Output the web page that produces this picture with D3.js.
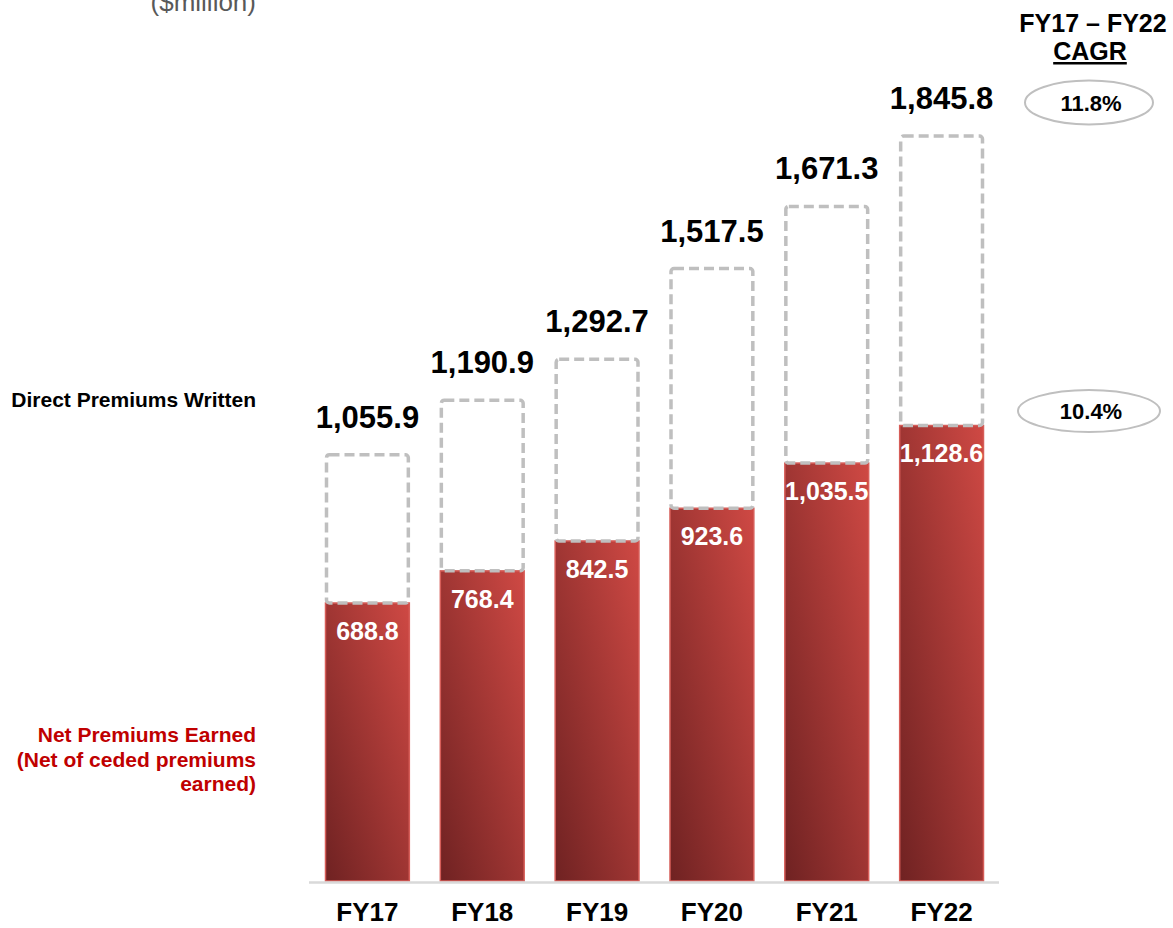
<!DOCTYPE html>
<html>
<head>
<meta charset="utf-8">
<script src="https://cdn.jsdelivr.net/npm/d3@7"></script>
<style>
  html, body { margin: 0; padding: 0; background: #fff; }
  svg { display: block; font-family: "Liberation Sans", Arial, sans-serif; }
</style>
</head>
<body>
<div id="chart"></div>
<script>
const categories = ["FY17", "FY18", "FY19", "FY20", "FY21", "FY22"];
const directPremiumsWritten = [1055.9, 1190.9, 1292.7, 1517.5, 1671.3, 1845.8];
const netPremiumsEarned = [688.8, 768.4, 842.5, 923.6, 1035.5, 1128.6];
const cagrLabels = ["11.8%", "10.4%"];
const unitLabel = "($million)";
const cagrTitle = ["FY17 – FY22", "CAGR"];
const seriesLabels = {
  dpw: ["Direct Premiums Written"],
  npe: ["Net Premiums Earned", "(Net of ceded premiums", "earned)"]
};

const W = 1173, H = 928;
const svg = d3.select("#chart").append("svg").attr("width", W).attr("height", H);

const baseY = 881;
const y = d3.scaleLinear().domain([0, 2000]).range([baseY, baseY - 2000 * 0.4036]);
const x = d3.scaleBand().domain(categories).range([310, 999]).paddingInner(0.27).paddingOuter(0.135);

const fmt = d3.format(",.1f");

const defs = svg.append("defs");
const grad = defs.append("linearGradient").attr("id", "barGrad")
  .attr("x1", 0).attr("y1", 1).attr("x2", 1).attr("y2", 0);
grad.append("stop").attr("offset", "0%").attr("stop-color", "#6f2222");
grad.append("stop").attr("offset", "100%").attr("stop-color", "#cf4944");

const rows = categories.map((c, i) => ({ c, dpw: directPremiumsWritten[i], npe: netPremiumsEarned[i] }));

// Net premiums earned bars
svg.append("g").selectAll("rect").data(rows).join("rect")
  .attr("x", d => x(d.c))
  .attr("y", d => y(d.npe))
  .attr("width", x.bandwidth())
  .attr("height", d => baseY - y(d.npe))
  .attr("fill", "url(#barGrad)")
  .attr("stroke", "#d65d58")
  .attr("stroke-width", 1.5);

// Dashed DPW boxes
svg.append("g").selectAll("rect").data(rows).join("rect")
  .attr("x", d => x(d.c) + 1)
  .attr("y", d => y(d.dpw))
  .attr("width", x.bandwidth() - 2)
  .attr("height", d => y(d.npe) - y(d.dpw))
  .attr("rx", 3)
  .attr("fill", "none")
  .attr("stroke", "#bfbfbf")
  .attr("stroke-width", 3.5)
  .attr("stroke-dasharray", "10,5");

// Baseline
svg.append("line")
  .attr("x1", 309).attr("x2", 999)
  .attr("y1", baseY + 1.5).attr("y2", baseY + 1.5)
  .attr("stroke", "#d9d9d9").attr("stroke-width", 2.5);

// DPW labels
svg.append("g").selectAll("text").data(rows).join("text")
  .attr("x", d => x(d.c) + x.bandwidth() / 2)
  .attr("y", d => y(d.dpw) - 27)
  .attr("text-anchor", "middle")
  .attr("font-weight", "bold")
  .attr("font-size", 31)
  .attr("fill", "#000")
  .text(d => fmt(d.dpw));

// NPE labels
svg.append("g").selectAll("text").data(rows).join("text")
  .attr("x", d => x(d.c) + x.bandwidth() / 2)
  .attr("y", d => y(d.npe) + 37)
  .attr("text-anchor", "middle")
  .attr("font-weight", "bold")
  .attr("font-size", 25)
  .attr("fill", "#fff")
  .text(d => fmt(d.npe));

// X axis labels
svg.append("g").selectAll("text").data(categories).join("text")
  .attr("x", d => x(d) + x.bandwidth() / 2)
  .attr("y", 921)
  .attr("text-anchor", "middle")
  .attr("font-weight", "bold")
  .attr("font-size", 26)
  .attr("fill", "#000")
  .text(d => d);

// Unit label
svg.append("text")
  .attr("x", 256).attr("y", 11)
  .attr("text-anchor", "end")
  .attr("font-size", 26)
  .attr("fill", "#595959")
  .text(unitLabel);

// Series labels
svg.append("text")
  .attr("x", 256).attr("y", 407)
  .attr("text-anchor", "end")
  .attr("font-weight", "bold")
  .attr("font-size", 21)
  .attr("fill", "#000")
  .text(seriesLabels.dpw[0]);

svg.append("g").selectAll("text").data(seriesLabels.npe).join("text")
  .attr("x", 256)
  .attr("y", (d, i) => 742 + i * 24.5)
  .attr("text-anchor", "end")
  .attr("font-weight", "bold")
  .attr("font-size", 21)
  .attr("fill", "#c00000")
  .text(d => d);

// CAGR header
svg.append("text")
  .attr("x", 1093).attr("y", 32)
  .attr("text-anchor", "middle")
  .attr("font-weight", "bold")
  .attr("font-size", 25)
  .attr("fill", "#000")
  .text(cagrTitle[0]);
svg.append("text")
  .attr("x", 1090).attr("y", 60)
  .attr("text-anchor", "middle")
  .attr("font-weight", "bold")
  .attr("font-size", 25)
  .attr("text-decoration", "underline")
  .attr("fill", "#000")
  .text(cagrTitle[1]);

// CAGR ellipses
const ellipses = [
  { label: cagrLabels[0], cx: 1089, cy: 102.5, rx: 64, ry: 22 },
  { label: cagrLabels[1], cx: 1089, cy: 411, rx: 71, ry: 21 }
];
const eg = svg.append("g").selectAll("g").data(ellipses).join("g");
eg.append("ellipse")
  .attr("cx", d => d.cx).attr("cy", d => d.cy)
  .attr("rx", d => d.rx).attr("ry", d => d.ry)
  .attr("fill", "#fff").attr("stroke", "#bfbfbf").attr("stroke-width", 2);
eg.append("text")
  .attr("x", d => d.cx + 2).attr("y", d => d.cy + 8)
  .attr("text-anchor", "middle")
  .attr("font-weight", "bold")
  .attr("font-size", 22)
  .attr("fill", "#000")
  .text(d => d.label);
</script>
</body>
</html>
